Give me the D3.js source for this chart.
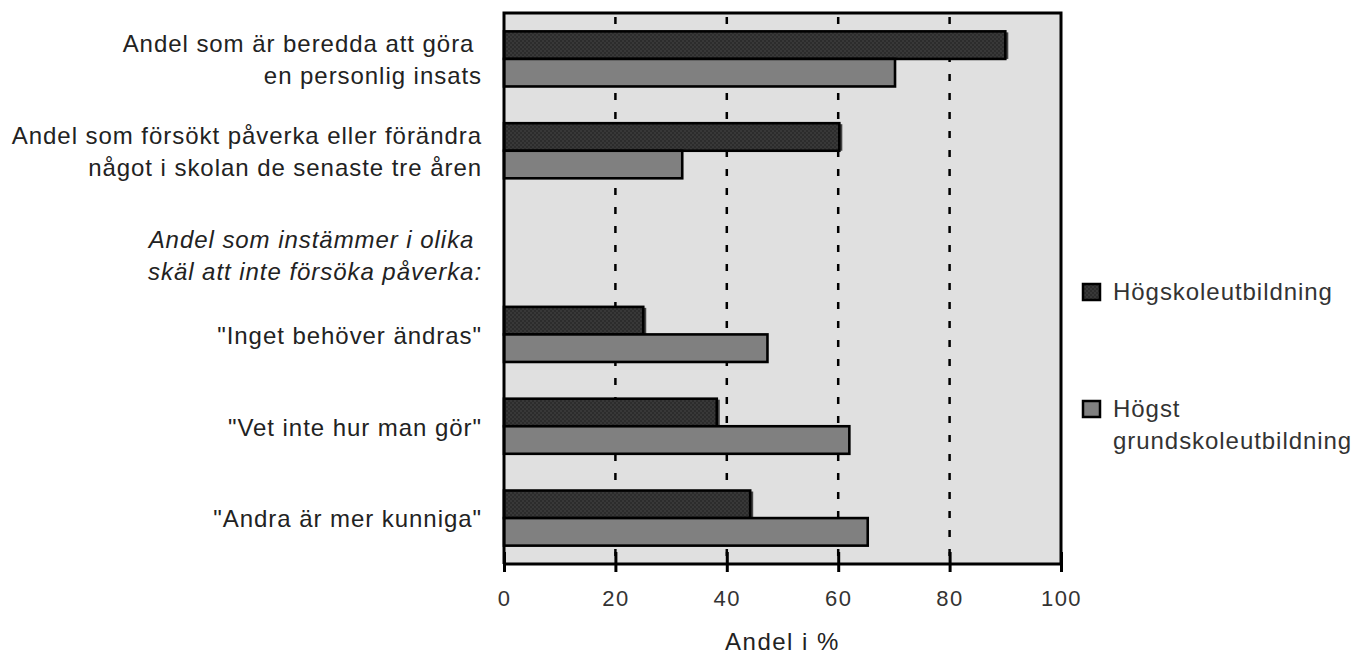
<!DOCTYPE html>
<html><head><meta charset="utf-8">
<script src="https://cdn.jsdelivr.net/npm/d3@7"></script>
<style>
html,body{margin:0;padding:0;background:#fff;}
svg{display:block;}
</style></head>
<body>
<svg id="chart" width="1361" height="655"></svg>
<script>
// ---- data ----
const categories = ["beredda", "forsokt", "rubrik", "inget", "vetinte", "andra"];
const categoryLabels = [
  ["Andel som är beredda att göra\u00a0", "en personlig insats"],
  ["Andel som försökt påverka eller förändra", "något i skolan de senaste tre åren"],
  ["Andel som instämmer i olika\u00a0", "skäl att inte försöka påverka:"],
  ["\"Inget behöver ändras\""],
  ["\"Vet inte hur man gör\""],
  ["\"Andra är mer kunniga\""]
];
const headingIndex = 2;
const seriesNames = ["Högskoleutbildning", "Högst grundskoleutbildning"];
const legendLines = [["Högskoleutbildning"], ["Högst", "grundskoleutbildning"]];
const hogskola = [90, 60.2, null, 25, 38.2, 44.2];
const grundskola = [70.2, 32, null, 47.3, 62, 65.3];
const xTicks = [0, 20, 40, 60, 80, 100];
const xTitle = "Andel i %";

// ---- layout ----
const svg = d3.select("#chart");
const L = 504, R = 1061, T = 13, B = 564;
const font = "'Liberation Sans', Arial, sans-serif";
const labSize = 24, labLS = 0.95;

const defs = svg.append("defs");
const pat = defs.append("pattern").attr("id","checker").attr("patternUnits","userSpaceOnUse")
  .attr("width",4).attr("height",4);
pat.append("rect").attr("width",4).attr("height",4).attr("fill","#383838");
pat.append("rect").attr("width",2).attr("height",2).attr("fill","#2c2c2c");
pat.append("rect").attr("x",2).attr("y",2).attr("width",2).attr("height",2).attr("fill","#2c2c2c");

const x = d3.scaleLinear().domain([0,100]).range([L,R]);
const y = d3.scaleBand().domain(categories).range([T,B]).paddingInner(0.4).paddingOuter(0.2);
const ySub = d3.scaleBand().domain([0,1]).range([0, y.bandwidth()]);
const fills = ["url(#checker)", "#808080"];
const seriesData = [hogskola, grundskola];

// plot background
svg.append("rect").attr("x",L).attr("y",T).attr("width",R-L).attr("height",B-T).attr("fill","#e0e0e0");

// dashed grid
svg.append("g").selectAll("line").data(xTicks.filter(t=>t>0 && t<100)).join("line")
  .attr("x1",d=>x(d)).attr("x2",d=>x(d)).attr("y1",T).attr("y2",B)
  .attr("stroke","#000").attr("stroke-width",2.5).attr("stroke-dasharray","7,12").attr("stroke-dashoffset",-4);

// bars
seriesData.forEach((vals,si)=>{
  const g = svg.append("g");
  const data = categories.map((c,i)=>({c, v: vals[i]})).filter(d=>d.v!=null);
  if (si===0) {
    g.selectAll("rect.shadow").data(data).join("rect").attr("class","shadow")
      .attr("x",x(0)).attr("y",d=>y(d.c)+ySub(si)+1)
      .attr("width",d=>x(d.v)-x(0)+3).attr("height",ySub.bandwidth()-1)
      .attr("fill","#444");
  }
  g.selectAll("rect.bar").data(data).join("rect").attr("class","bar")
    .attr("x",x(0)).attr("y",d=>y(d.c)+ySub(si))
    .attr("width",d=>x(d.v)-x(0)).attr("height",ySub.bandwidth())
    .attr("fill",fills[si]).attr("stroke","#000").attr("stroke-width",2.6);
});

// frame (top, left, right)
svg.append("path").attr("d",`M${L},${B}V${T}H${R}V${B}`).attr("fill","none")
  .attr("stroke","#000").attr("stroke-width",3);

// x axis
const ax = svg.append("g").attr("transform",`translate(0,${B})`)
  .call(d3.axisBottom(x).tickValues(xTicks).tickSize(7).tickPadding(18).tickFormat(d3.format("d")));
ax.select(".domain").attr("stroke","#000").attr("stroke-width",3).attr("d",`M${L},0H${R}`);
ax.selectAll(".tick line").attr("y1",-12).attr("y2",8).attr("stroke","#000").attr("stroke-width",3);
ax.selectAll(".tick text").attr("font-family",font).attr("font-size",22).attr("fill","#333")
  .attr("letter-spacing",1.5).attr("y",34).attr("dy","0.35em");

svg.append("text").attr("x",(L+R)/2).attr("y",642).attr("dy","0.35em").attr("text-anchor","middle")
  .attr("font-family",font).attr("font-size",24).attr("letter-spacing",1.5).attr("fill","#222").text(xTitle);

// category labels
const lab = svg.append("g");
categories.forEach((c,i)=>{
  const lines = categoryLabels[i];
  const cy = y(c) + y.bandwidth()/2 + (i===headingIndex ? 13 : 1);
  const lh = 32;
  const t = lab.append("text").attr("text-anchor","end").attr("x",482)
    .attr("font-family",font).attr("font-size",labSize).attr("letter-spacing",labLS).attr("fill","#222")
    .attr("font-style", i===headingIndex ? "italic" : "normal")
    .attr("xml:space","preserve");
  lines.forEach((ln,k)=>{
    t.append("tspan").attr("x",482).attr("y", cy + (k-(lines.length-1)/2)*lh).attr("dy","0.35em").text(ln);
  });
});

// legend
const legY = [292, 409];
seriesNames.forEach((s,i)=>{
  svg.append("rect").attr("x",1083).attr("y",legY[i]-8).attr("width",17).attr("height",16)
    .attr("fill",fills[i]).attr("stroke","#000").attr("stroke-width",2.5);
  const t = svg.append("text").attr("font-family",font).attr("font-size",labSize).attr("letter-spacing",labLS).attr("fill","#333");
  legendLines[i].forEach((ln,k)=>{
    t.append("tspan").attr("x",1113).attr("y",legY[i]+k*32).attr("dy","0.35em").text(ln);
  });
});
</script>
</body></html>
